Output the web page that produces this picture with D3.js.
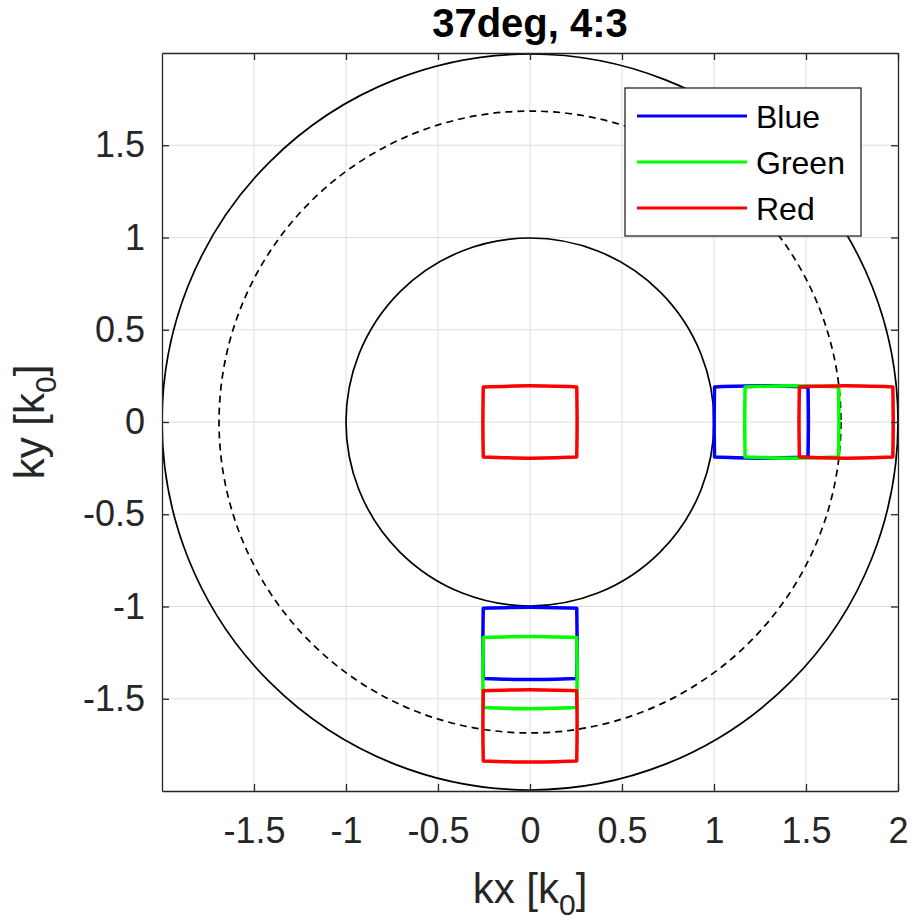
<!DOCTYPE html>
<html><head><meta charset="utf-8">
<script src="https://cdn.jsdelivr.net/npm/d3@7"></script>
<style>
body{margin:0;background:#fff}
text{font-family:"Liberation Sans",Arial,Helvetica,sans-serif}
</style>
</head><body>
<svg id="chart" width="914" height="920"></svg>
<script>
// ---- data ----
const titleText = "37deg, 4:3";
const seriesNames = ["Blue", "Green", "Red"];
const seriesColors = ["#0000ff", "#00ff00", "#ff0000"];
// k-space shifts of the FOV footprint for each colour (in k0 units)
const shiftKx = [1.257, 1.423, 1.718];
const shiftKy = [-1.200, -1.358, -1.647];
// central FOV footprint: corner and edge-midpoint half extents
const fovCorner = [0.254, 0.190];
const fovEdgeMid = [0.256, 0.196];
// reference circles (radius in k0)
const circleRadii = [1, 1.69, 2];
const circleDashed = [false, true, false];
// axis ticks
const xTickValues = [-1.5, -1, -0.5, 0, 0.5, 1, 1.5, 2];
const yTickValues = [-1.5, -1, -0.5, 0, 0.5, 1, 1.5];
const gridValues = [-1.5, -1, -0.5, 0, 0.5, 1, 1.5];
const axisDomain = [-2, 2];

// ---- layout ----
const svg = d3.select("#chart");
const L = 162, R = 898, T = 53, B = 791;
const x = d3.scaleLinear().domain(axisDomain).range([L, R]);
const y = d3.scaleLinear().domain(axisDomain).range([B, T]);
const axisColor = "#262626";

svg.append("defs").append("clipPath").attr("id", "plotclip")
  .append("rect").attr("x", L).attr("y", T).attr("width", R - L).attr("height", B - T);

// grid
const grid = svg.append("g");
grid.selectAll("line.gx").data(gridValues).join("line").attr("class", "gx")
  .attr("x1", d => x(d)).attr("x2", d => x(d)).attr("y1", T).attr("y2", B)
  .attr("stroke", "#dedede").attr("stroke-width", 1);
grid.selectAll("line.gy").data(gridValues).join("line").attr("class", "gy")
  .attr("y1", d => y(d)).attr("y2", d => y(d)).attr("x1", L).attr("x2", R)
  .attr("stroke", "#dedede").attr("stroke-width", 1);

const plot = svg.append("g").attr("clip-path", "url(#plotclip)");

// circles
plot.selectAll("circle.ref").data(circleRadii).join("circle").attr("class", "ref")
  .attr("cx", x(0)).attr("cy", y(0))
  .attr("r", d => x(d) - x(0))
  .attr("fill", "none").attr("stroke", "#000").attr("stroke-width", 1.7)
  .attr("stroke-dasharray", (d, i) => circleDashed[i] ? "7,5" : null);

// FOV footprint outline (four gently bowed edges)
function footprintEdges(dx, dy) {
  const [cx, cy] = fovCorner, [mx, my] = fovEdgeMid;
  return [
    [[-cx, cy], [0, my], [cx, cy]],
    [[cx, cy], [mx, 0], [cx, -cy]],
    [[cx, -cy], [0, -my], [-cx, -cy]],
    [[-cx, -cy], [-mx, 0], [-cx, cy]]
  ].map(e => e.map(p => [p[0] + dx, p[1] + dy]));
}
const edgeLine = d3.line().x(p => x(p[0])).y(p => y(p[1])).curve(d3.curveNatural);
function footprintPath(dx, dy) {
  return footprintEdges(dx, dy).map(e => edgeLine(e)).join("");
}

const boxes = [];
seriesNames.forEach((n, i) => boxes.push({dx: shiftKx[i], dy: 0, c: seriesColors[i]}));
seriesNames.forEach((n, i) => boxes.push({dx: 0, dy: shiftKy[i], c: seriesColors[i]}));
boxes.push({dx: 0, dy: 0, c: seriesColors[2]});
// draw blue, green, red in that order
const ordered = [];
seriesColors.forEach(c => boxes.filter(b => b.c === c).forEach(b => ordered.push(b)));
plot.selectAll("path.box").data(ordered).join("path").attr("class", "box")
  .attr("d", b => footprintPath(b.dx, b.dy))
  .attr("fill", "none").attr("stroke", b => b.c).attr("stroke-width", 3.5)
  .attr("stroke-linecap", "round").attr("stroke-linejoin", "round");

// axes
const fmt = d => String(d);
function styleAxis(g) {
  g.selectAll("path.domain").attr("stroke", axisColor).attr("stroke-width", 1.3);
  g.selectAll(".tick line").attr("stroke", axisColor).attr("stroke-width", 1.3);
  g.selectAll(".tick text").attr("fill", axisColor).style("font-size", "36px")
    .style("font-family", '"Liberation Sans",Arial,sans-serif');
}
svg.append("g").attr("transform", `translate(0,${B})`)
  .call(d3.axisBottom(x).tickValues(xTickValues).tickSize(-7).tickSizeOuter(0).tickPadding(26)
    .tickFormat(fmt))
  .call(styleAxis);
svg.append("g").attr("transform", `translate(0,${T})`)
  .call(d3.axisTop(x).tickValues(xTickValues).tickSize(-7).tickSizeOuter(0).tickFormat(""))
  .call(styleAxis);
svg.append("g").attr("transform", `translate(${L},0)`)
  .call(d3.axisLeft(y).tickValues(yTickValues).tickSize(-7).tickSizeOuter(0).tickPadding(17)
    .tickFormat(fmt))
  .call(styleAxis);
svg.append("g").attr("transform", `translate(${R},0)`)
  .call(d3.axisRight(y).tickValues(yTickValues).tickSize(-7).tickSizeOuter(0).tickFormat(""))
  .call(styleAxis);

// title
svg.append("text").attr("x", (L + R) / 2).attr("y", 37)
  .attr("text-anchor", "middle").style("font-size", "40px").style("font-weight", "bold")
  .attr("fill", "#000").text(titleText);

// axis labels
const xl = svg.append("text").attr("x", (L + R) / 2).attr("y", 903)
  .attr("text-anchor", "middle").style("font-size", "42px").attr("fill", axisColor);
xl.append("tspan").text("kx [k");
xl.append("tspan").attr("dy", 12).style("font-size", "30px").text("0");
xl.append("tspan").attr("dy", -12).text("]");

const yl = svg.append("text").attr("transform", `translate(44,${(T + B) / 2}) rotate(-90)`)
  .attr("text-anchor", "middle").style("font-size", "42px").attr("fill", axisColor);
yl.append("tspan").text("ky [k");
yl.append("tspan").attr("dy", 12).style("font-size", "30px").text("0");
yl.append("tspan").attr("dy", -12).text("]");

// legend
const lg = svg.append("g");
lg.append("rect").attr("x", 625).attr("y", 88).attr("width", 236).attr("height", 148)
  .attr("fill", "#fff").attr("stroke", axisColor).attr("stroke-width", 1.3);
seriesNames.forEach((n, i) => {
  const yy = 116 + i * 46;
  lg.append("line").attr("x1", 637).attr("x2", 747).attr("y1", yy).attr("y2", yy)
    .attr("stroke", seriesColors[i]).attr("stroke-width", 3);
  lg.append("text").attr("x", 756).attr("y", yy).attr("dy", "0.36em")
    .style("font-size", "32px").attr("fill", "#000").text(n);
});
</script>
</body></html>
